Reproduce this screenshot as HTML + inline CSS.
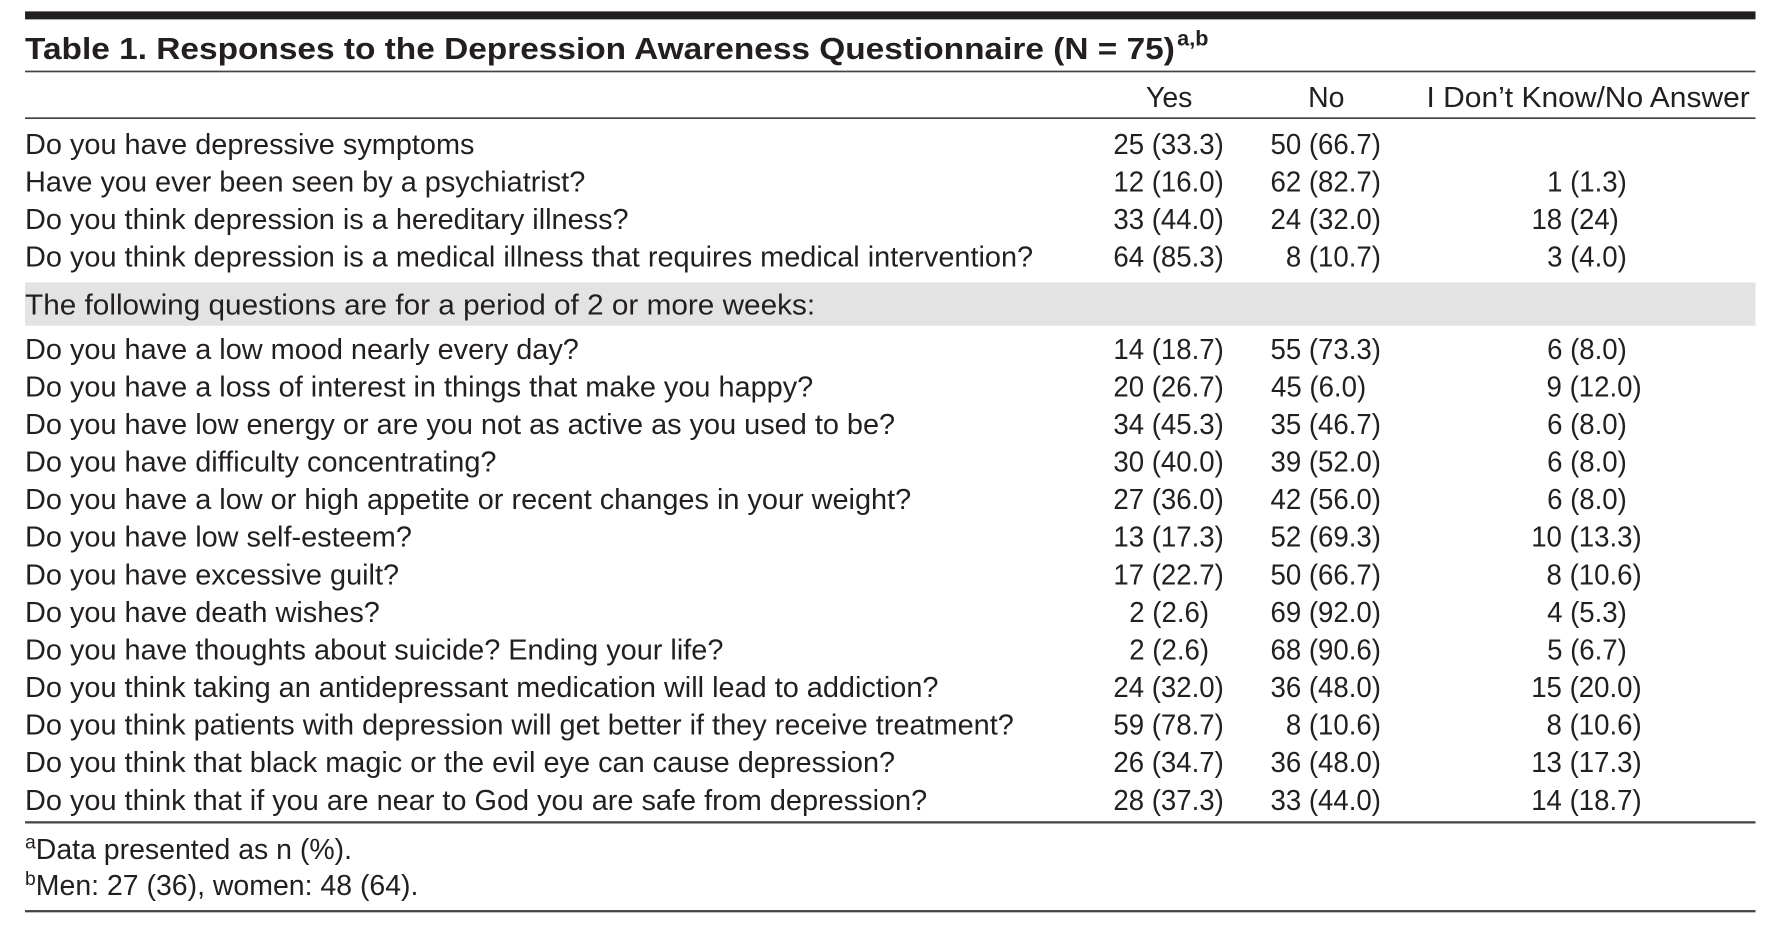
<!DOCTYPE html>
<html><head><meta charset="utf-8"><style>
html,body{margin:0;padding:0;background:#fff;width:1776px;height:926px;overflow:hidden}
svg{display:block}
text{font-family:"Liberation Sans",sans-serif;fill:#231f20}
</style></head><body>
<svg id="t" width="1776" height="926" viewBox="0 0 1560 813" preserveAspectRatio="none" xmlns="http://www.w3.org/2000/svg">
<rect x="22" y="10" width="1520" height="7" fill="#231f20"/>
<text x="22" y="52" font-size="27" font-weight="bold" textLength="1010" lengthAdjust="spacingAndGlyphs">Table 1. Responses to the Depression Awareness Questionnaire (N = 75)</text>
<text x="1034" y="40" font-size="19" font-weight="bold">a,b</text>
<rect x="22" y="62" width="1520" height="1.5" fill="#444"/>
<text x="1027" y="94" font-size="25" text-anchor="middle">Yes</text>
<text x="1165" y="94" font-size="25" text-anchor="middle">No</text>
<text x="1395" y="94" font-size="25" text-anchor="middle" textLength="284" lengthAdjust="spacingAndGlyphs">I Don’t Know/No Answer</text>
<rect x="22" y="103" width="1520" height="1.5" fill="#444"/>
<rect x="22" y="248" width="1520" height="38" fill="#e3e3e3"/>
<text x="22" y="276" font-size="25" textLength="694" lengthAdjust="spacingAndGlyphs">The following questions are for a period of 2 or more weeks:</text>
<g id="rows"></g>
<rect x="22" y="721" width="1520" height="2" fill="#444"/>
<text x="22" y="754" font-size="25"><tspan font-size="17" dy="-9">a</tspan><tspan dy="9">Data presented as n (%).</tspan></text>
<text x="22" y="786" font-size="25"><tspan font-size="17" dy="-9">b</tspan><tspan dy="9">Men: 27 (36), women: 48 (64).</tspan></text>
<rect x="22" y="799" width="1520" height="2" fill="#444"/>
</svg>
<script>
const questions=["Do you have depressive symptoms","Have you ever been seen by a psychiatrist?","Do you think depression is a hereditary illness?","Do you think depression is a medical illness that requires medical intervention?","Do you have a low mood nearly every day?","Do you have a loss of interest in things that make you happy?","Do you have low energy or are you not as active as you used to be?","Do you have difficulty concentrating?","Do you have a low or high appetite or recent changes in your weight?","Do you have low self-esteem?","Do you have excessive guilt?","Do you have death wishes?","Do you have thoughts about suicide? Ending your life?","Do you think taking an antidepressant medication will lead to addiction?","Do you think patients with depression will get better if they receive treatment?","Do you think that black magic or the evil eye can cause depression?","Do you think that if you are near to God you are safe from depression?"];
const yesVals=["25 (33.3)","12 (16.0)","33 (44.0)","64 (85.3)","14 (18.7)","20 (26.7)","34 (45.3)","30 (40.0)","27 (36.0)","13 (17.3)","17 (22.7)","2 (2.6)","2 (2.6)","24 (32.0)","59 (78.7)","26 (34.7)","28 (37.3)"];
const noVals=["50 (66.7)","62 (82.7)","24 (32.0)","8 (10.7)","55 (73.3)","45 (6.0)","35 (46.7)","39 (52.0)","42 (56.0)","52 (69.3)","50 (66.7)","69 (92.0)","68 (90.6)","36 (48.0)","8 (10.6)","36 (48.0)","33 (44.0)"];
const dkVals=["","1 (1.3)","18 (24)","3 (4.0)","6 (8.0)","9 (12.0)","6 (8.0)","6 (8.0)","6 (8.0)","10 (13.3)","8 (10.6)","4 (5.3)","5 (6.7)","15 (20.0)","8 (10.6)","13 (17.3)","14 (18.7)"];
const g=document.getElementById('rows');
const NS="http://www.w3.org/2000/svg";
function rowY(i){return i<4?135+i*33:315+(i-4)*33;}
function shift(v){const inner=v.slice(v.indexOf('(')+1,-1);if(inner.indexOf('.')<0)return 20;return inner.split('.')[0].length<2?13:0;}
function mk(txt,x,y,anchor,sx){const t=document.createElementNS(NS,'text');t.setAttribute('x',x);t.setAttribute('y',y);t.setAttribute('font-size','25');t.setAttribute('text-anchor',anchor);t.setAttribute('transform',`translate(${x},0) scale(${sx},1) translate(${-x},0)`);t.textContent=txt;return t;}
questions.forEach((q,i)=>{
 const y=rowY(i);
 const a=mk(q,22,y,'start',1.015);
 
 
 g.appendChild(a);
 const b=mk(yesVals[i],1075-shift(yesVals[i]),y,'end',0.97);
 
 
 g.appendChild(b);
 const c=mk(noVals[i],1213-shift(noVals[i]),y,'end',0.97);
 
 
 g.appendChild(c);
 if(dkVals[i]){
 const d=mk(dkVals[i],1442-shift(dkVals[i]),y,'end',0.97);
 
 
 g.appendChild(d);}
});
</script>
</body></html>
